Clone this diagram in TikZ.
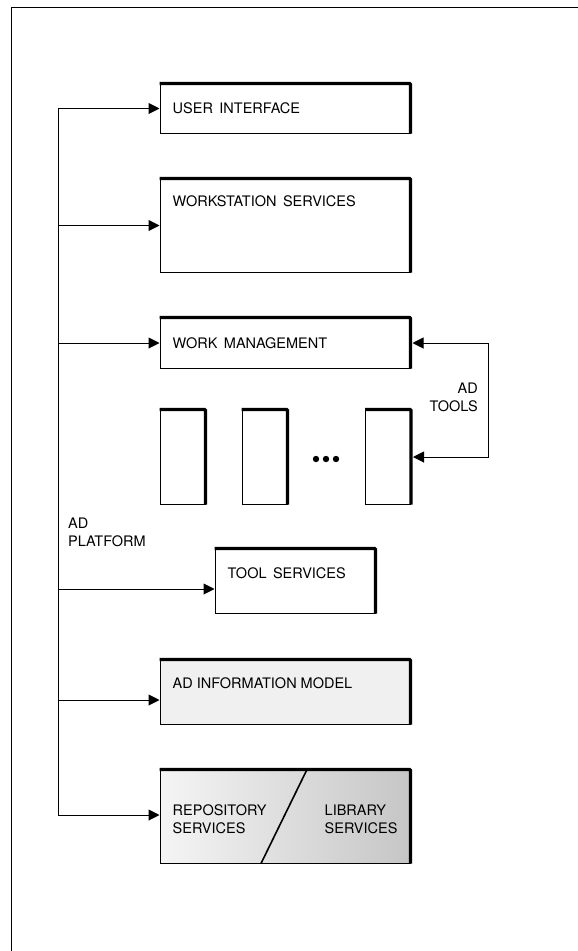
\documentclass[tikz,border=0pt]{standalone}
\usepackage{fontspec}
\setmainfont{TeX Gyre Heros}
\usetikzlibrary{arrows.meta,calc,positioning}

\begin{document}
\begin{tikzpicture}[x=1pt, y=-1pt,
    box/.style={draw, line width=1pt, inner sep=0pt, minimum width=250pt},
    tool/.style={box, minimum width=45pt, minimum height=94pt},
    txt/.style={font=\fontsize{14.5}{18}\selectfont, inner sep=0pt, align=left},
    arr/.style={line width=1pt, -{Triangle[length=11pt,width=11pt]}}]
  \useasboundingbox (0,0) rectangle (578,951);
  % frame
  \draw[line width=0.8pt] (11,951) -- (11,7) -- (578,7);

  % layers
  \node[box, minimum height=49pt] (ui) at (285,108.5) {};
  \node[box, minimum height=93pt] (ws) at (285,225.5) {};
  \node[box, minimum height=50pt] (wm) at (285,343) {};
  \node[tool] (t1) at (182.5,457) {};
  \node[tool] (t2) at (264.5,457) {};
  \node[tool] (t3) at (388,457) {};
  \node[box, minimum width=160pt, minimum height=64pt] (ts) at (295,581) {};
  \node[box, minimum height=64pt, fill=gray!12] (im) at (285,692) {};
  \node[box, minimum height=93pt, left color=gray!8, right color=gray!45] (rp) at (285,816.5) {};
  \foreach \n in {ui,ws,wm,t1,t2,t3,ts,im,rp}
    \draw[line width=3.4pt, rounded corners=1pt] (\n.north west) -- (\n.north east) -- (\n.south east);
  \draw[line width=1.6pt] ([xshift=22pt]rp.north) -- ([xshift=-24pt]rp.south);

  % labels
  \node[txt, anchor=west] at ([xshift=13pt]ui.west) {USER\, INTERFACE};
  \node[txt, anchor=west] at ([xshift=13pt,yshift=-23pt]ws.north west) {WORKSTATION\, SERVICES};
  \node[txt, anchor=west] at ([xshift=13pt]wm.west) {WORK\, MANAGEMENT};
  \node[txt, anchor=west] at ([xshift=13pt,yshift=-25pt]ts.north west) {TOOL\, SERVICES};
  \node[txt, anchor=west] at ([xshift=13pt,yshift=-24pt]im.north west) {AD INFORMATION MODEL};
  \node[txt, anchor=west] at ([xshift=13pt,yshift=-3pt]rp.west) {REPOSITORY\\SERVICES};
  \node[txt, anchor=west] at ([xshift=165pt,yshift=-3pt]rp.west) {LIBRARY\\SERVICES};
  \node[txt, anchor=east, align=right] (adtools) at (478,397) {AD\\TOOLS};
  \node[txt, anchor=west] (adplat) at (68,532) {AD\\PLATFORM};
  \foreach \x in {316,326,336}
    \fill (\x,459) circle (3.2pt);

  % platform bus
  \coordinate (bus) at (58,0);
  \draw[line width=1pt] (bus |- ui.west) -- (bus |- 0,815);
  \draw[arr] (bus |- ui.west) -- (ui.west);
  \draw[arr] (bus |- ws.west) -- (ws.west);
  \draw[arr] (bus |- wm.west) -- (wm.west);
  \draw[arr] (bus |- 0,589) -- (ts.west |- 0,589);
  \draw[arr] (bus |- 0,700) -- (im.west |- 0,700);
  \draw[arr] (bus |- 0,815) -- (rp.west |- 0,815);

  % tools loop
  \coordinate (loop) at (488,0);
  \draw[line width=1pt, {Triangle[length=11pt,width=11pt]}-{Triangle[length=11pt,width=11pt]}]
    ([xshift=2pt]wm.east) -- (loop |- wm.east) -- (loop |- t3.east) -- ([xshift=2pt]t3.east);
\end{tikzpicture}
\end{document}
